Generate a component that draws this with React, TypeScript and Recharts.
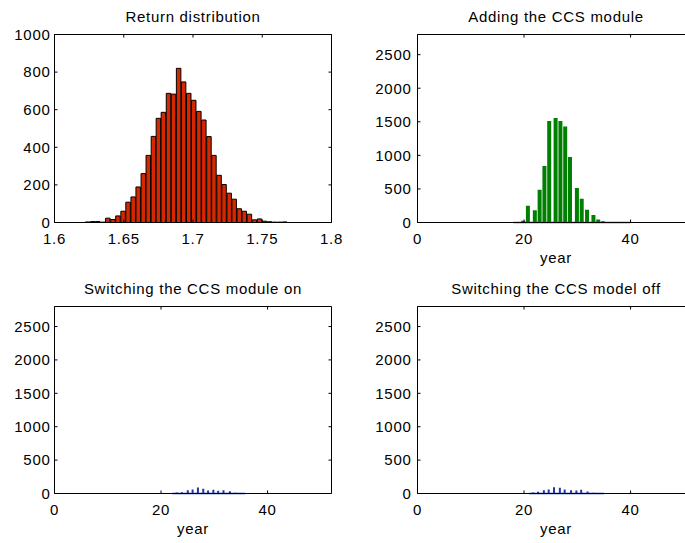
import React from 'react';
import { BarChart, Bar, XAxis, YAxis, ReferenceLine } from 'recharts';

// ---- Data ----
const returnBins = [
  1.6241, 1.6278, 1.6314, 1.6351, 1.6387, 1.6424, 1.646, 1.6497, 1.6533, 1.657,
  1.6606, 1.6643, 1.6679, 1.6716, 1.6752, 1.6788, 1.6825, 1.6861, 1.6898, 1.6934,
  1.6971, 1.7007, 1.7044, 1.708, 1.7117, 1.7153, 1.719, 1.7226, 1.7263, 1.7299,
  1.7336, 1.7372, 1.7409, 1.7445, 1.7482, 1.7518, 1.7555, 1.7591, 1.7628, 1.7664,
];
const returnCounts = [
  3, 5, 5, 2, 23, 16, 35, 60, 108, 136,
  189, 260, 357, 458, 554, 586, 687, 683, 820, 748,
  687, 650, 591, 545, 457, 357, 251, 202, 156, 124,
  73, 60, 44, 14, 19, 7, 4, 2, 2, 3,
];
const returnTicks = [1.6, 1.65, 1.7, 1.75, 1.8];
const returnCountTicks = [0, 200, 400, 600, 800, 1000];

const addYears = [18.9, 19.9, 20.8, 22.1, 23.0, 23.9, 24.8, 26.0, 26.9, 27.8, 28.7, 30.0, 30.9, 31.9, 33.1, 34.0, 34.9, 36.1, 37.0, 37.9, 39.1];
const addCounts = [5, 25, 249, 184, 488, 840, 1512, 1557, 1512, 1428, 975, 512, 353, 189, 110, 45, 20, 8, 5, 3, 3];
const addRange = [18, 40];

const onYears = [23.0, 24.0, 25.1, 26.0, 27.0, 28.0, 28.9, 29.9, 30.8, 31.8, 33.0, 34.0];
const onCounts = [15, 20, 50, 60, 90, 70, 45, 55, 40, 50, 35, 10];
const onRange = [22.1, 35.8];

const offYears = [21.8, 22.7, 23.8, 24.7, 25.7, 26.8, 27.7, 28.9, 29.9, 30.8, 32.0, 33.1];
const offCounts = [15, 25, 50, 60, 95, 85, 60, 50, 45, 55, 30, 10];
const offRange = [20.9, 35.0];

const yearTicks = [0, 20, 40];
const countTicks = [0, 500, 1000, 1500, 2000, 2500];

const TEXT = '#000';
const FONT = 15;
const LS = 0.7;

type PanelProps = {
  left: number; top: number; width: number; height: number;
  pl: number; pr: number; pt: number; pb: number;
  xs: number[]; ys: number[];
  xDomain: [number, number]; xTicks: number[];
  yDomain: [number, number]; yTicks: number[];
  fill: string; stroke?: string; barSize: number;
  range?: number[]; rangeColor?: string;
  title: string; xLabel?: string; yTickMargin: number;
};

const Empty = () => <g />;

function Panel(p: PanelProps) {
  const data = p.xs.map((x, i) => ({ x, count: p.ys[i] }));
  const YW = 50;
  const XH = 40;
  const TH = 1;
  const RW = 1;
  const margin = {
    top: p.pt - p.top - TH,
    left: p.pl - p.left - YW,
    right: p.left + p.width - p.pr - RW,
    bottom: p.top + p.height - p.pb - XH,
  };
  const tickStyle = { fill: TEXT, fontSize: FONT, letterSpacing: LS } as any;
  return (
    <>
      <div
        style={{
          position: 'absolute',
          left: p.pl,
          width: p.pr - p.pl,
          top: p.pt - 27.8,
          height: 20,
          lineHeight: '20px',
          fontSize: FONT,
          letterSpacing: LS,
          textAlign: 'center',
          color: TEXT,
          whiteSpace: 'nowrap',
        }}
      >
        {p.title}
      </div>
      <div style={{ position: 'absolute', left: p.left, top: p.top }}>
        <BarChart width={p.width} height={p.height} data={data} margin={margin}>
          <XAxis
            dataKey="x"
            type="number"
            domain={p.xDomain}
            ticks={p.xTicks}
            interval={0}
            allowDataOverflow
            height={XH}
            tickSize={-3}
            tickMargin={14}
            tick={tickStyle}
            tickFormatter={(v: number) => String(v)}
            axisLine={{ stroke: '#000', strokeWidth: 1 }}
            tickLine={{ stroke: '#000' }}
            label={p.xLabel ? { value: p.xLabel, position: 'insideBottom', offset: 0, fill: TEXT, fontSize: FONT, letterSpacing: LS } as any : undefined}
          />
          <XAxis
            xAxisId="top"
            orientation="top"
            type="number"
            dataKey="x"
            domain={p.xDomain}
            ticks={p.xTicks}
            interval={0}
            allowDataOverflow
            height={TH}
            tickSize={-3}
            tick={Empty}
            axisLine={{ stroke: '#000', strokeWidth: 1 }}
            tickLine={{ stroke: '#000' }}
          />
          <YAxis
            type="number"
            domain={p.yDomain}
            ticks={p.yTicks}
            interval={0}
            allowDataOverflow
            width={YW}
            tickSize={-3}
            tickMargin={p.yTickMargin}
            tick={tickStyle}
            axisLine={{ stroke: '#000', strokeWidth: 1 }}
            tickLine={{ stroke: '#000' }}
          />
          <YAxis
            yAxisId="r"
            orientation="right"
            type="number"
            domain={p.yDomain}
            ticks={p.yTicks}
            interval={0}
            allowDataOverflow
            width={RW}
            tickSize={-3}
            tick={Empty}
            axisLine={{ stroke: '#000', strokeWidth: 1 }}
            tickLine={{ stroke: '#000' }}
          />
          <Bar
            dataKey="count"
            fill={p.fill}
            stroke={p.stroke || 'none'}
            strokeWidth={p.stroke ? 1 : 0}
            barSize={p.barSize}
            isAnimationActive={false}
          />
          {p.range ? (
            <ReferenceLine
              segment={[{ x: p.range[0], y: 0 }, { x: p.range[1], y: 0 }]}
              stroke={p.rangeColor}
              strokeWidth={1.5}
              ifOverflow="visible"
            />
          ) : null}
        </BarChart>
      </div>
    </>
  );
}

export default function App() {
  return (
    <div
      style={{
        position: 'absolute',
        left: 0,
        top: 0,
        width: 685,
        height: 543,
        overflow: 'hidden',
        background: '#fff',
        fontFamily: '"Liberation Sans", Arial, sans-serif',
      }}
    >
      <Panel
        left={0} top={0} width={345} height={270}
        pl={54.5} pr={331.5} pt={34.5} pb={222.5}
        xs={returnBins} ys={returnCounts}
        xDomain={[1.6, 1.8]} xTicks={returnTicks}
        yDomain={[0, 1000]} yTicks={returnCountTicks}
        fill="#d62800" stroke="#000" barSize={5}
        title="Return distribution" yTickMargin={7}
      />
      <Panel
        left={345} top={0} width={370} height={270}
        pl={417.5} pr={694.5} pt={34.5} pb={222.5}
        xs={addYears} ys={addCounts}
        xDomain={[0, 52]} xTicks={yearTicks}
        yDomain={[0, 2800]} yTicks={countTicks}
        fill="#008000" barSize={4}
        range={addRange} rangeColor="#008000"
        title="Adding the CCS module" xLabel="year" yTickMargin={9}
      />
      <Panel
        left={0} top={270} width={345} height={273}
        pl={54.5} pr={331.5} pt={306.5} pb={493.5}
        xs={onYears} ys={onCounts}
        xDomain={[0, 52]} xTicks={yearTicks}
        yDomain={[0, 2800]} yTicks={countTicks}
        fill="#23399a" barSize={2}
        range={onRange} rangeColor="#23399a"
        title="Switching the CCS module on" xLabel="year" yTickMargin={7}
      />
      <Panel
        left={345} top={270} width={370} height={273}
        pl={417.5} pr={694.5} pt={306.5} pb={493.5}
        xs={offYears} ys={offCounts}
        xDomain={[0, 52]} xTicks={yearTicks}
        yDomain={[0, 2800]} yTicks={countTicks}
        fill="#23399a" barSize={2}
        range={offRange} rangeColor="#23399a"
        title="Switching the CCS model off" xLabel="year" yTickMargin={9}
      />
    </div>
  );
}
